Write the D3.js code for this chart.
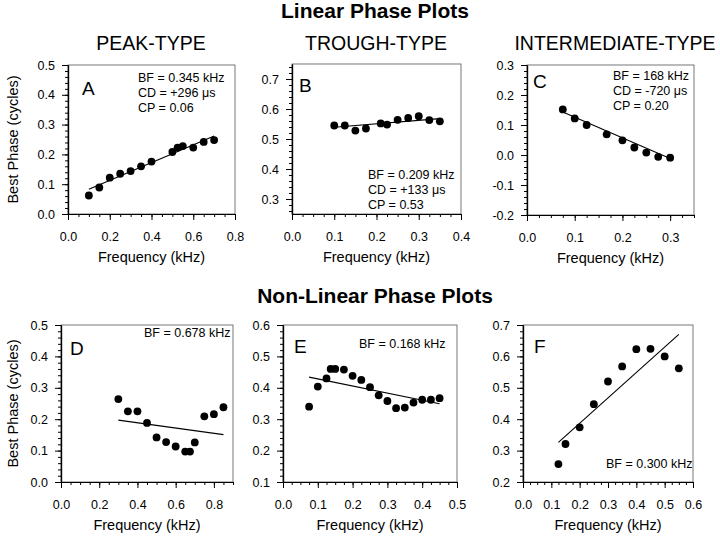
<!DOCTYPE html>
<html>
<head>
<meta charset="utf-8">
<script src="https://cdn.jsdelivr.net/npm/d3@7"></script>
<title>Linear and non-linear phase plots</title>
<style>
  body { margin:0; background:#fff; }
  text { font-family:"Liberation Sans", Arial, sans-serif; fill:#000; }
</style>
</head>
<body>
<div id="chart"></div>
<script>
// ---- values ----
var rowTitles = ["Linear Phase Plots", "Non-Linear Phase Plots"];
var colTitles = ["PEAK-TYPE", "TROUGH-TYPE", "INTERMEDIATE-TYPE"];
var letters = ["A", "B", "C", "D", "E", "F"];

var freqA  = [0.1, 0.15, 0.2, 0.25, 0.3, 0.35, 0.4, 0.5, 0.525, 0.55, 0.6, 0.65, 0.7];
var phaseA = [0.062, 0.089, 0.122, 0.135, 0.144, 0.16, 0.176, 0.208, 0.223, 0.228, 0.223, 0.242, 0.248];
var fitA   = [[0.1, 0.083], [0.7, 0.262]];
var notesA = ["BF = 0.345 kHz", "CD = +296 \u03bcs", "CP = 0.06"];

var freqB  = [0.1, 0.125, 0.15, 0.175, 0.21, 0.225, 0.25, 0.275, 0.3, 0.325, 0.35];
var phaseB = [0.545, 0.545, 0.528, 0.535, 0.552, 0.548, 0.564, 0.570, 0.576, 0.563, 0.559];
var fitB   = [[0.1, 0.539], [0.35, 0.568]];
var notesB = ["BF = 0.209 kHz", "CD = +133 \u03bcs", "CP = 0.53"];

var freqC  = [0.075, 0.1, 0.125, 0.167, 0.2, 0.225, 0.25, 0.275, 0.3];
var phaseC = [0.152, 0.122, 0.1, 0.069, 0.049, 0.025, 0.008, -0.006, -0.009];
var fitC   = [[0.075, 0.143], [0.3, -0.012]];
var notesC = ["BF = 168 kHz", "CD = -720 \u03bcs", "CP = 0.20"];

var freqD  = [0.3, 0.35, 0.4, 0.45, 0.5, 0.55, 0.6, 0.65, 0.675, 0.7, 0.75, 0.8, 0.85];
var phaseD = [0.264, 0.225, 0.225, 0.188, 0.142, 0.127, 0.113, 0.097, 0.097, 0.126, 0.209, 0.216, 0.238];
var fitD   = [[0.3, 0.197], [0.85, 0.151]];
var notesD = ["BF = 0.678 kHz"];

var freqE  = [0.075, 0.1, 0.125, 0.137, 0.15, 0.175, 0.2, 0.225, 0.25, 0.275, 0.3, 0.325, 0.35, 0.375, 0.4, 0.425, 0.45];
var phaseE = [0.340, 0.404, 0.430, 0.460, 0.460, 0.458, 0.438, 0.425, 0.402, 0.376, 0.358, 0.335, 0.337, 0.353, 0.362, 0.362, 0.367];
var fitE   = [[0.075, 0.434], [0.45, 0.349]];
var notesE = ["BF = 0.168 kHz"];

var freqF  = [0.125, 0.15, 0.2, 0.25, 0.3, 0.35, 0.4, 0.45, 0.5, 0.55];
var phaseF = [0.257, 0.321, 0.374, 0.448, 0.520, 0.568, 0.623, 0.624, 0.60, 0.562];
var fitF   = [[0.125, 0.326], [0.55, 0.670]];
var notesF = ["BF = 0.300 kHz"];

var xDomains = [[0, 0.8], [0, 0.4], [0, 0.35], [0, 0.9], [0, 0.5], [0, 0.6]];
var yDomains = [[0, 0.5], [0.25, 0.75], [-0.2, 0.3], [0, 0.5], [0.1, 0.6], [0.2, 0.7]];
var xSteps   = [0.2, 0.1, 0.1, 0.2, 0.1, 0.1];

var freqs  = [freqA, freqB, freqC, freqD, freqE, freqF];
var phases = [phaseA, phaseB, phaseC, phaseD, phaseE, phaseF];
var fits   = [fitA, fitB, fitC, fitD, fitE, fitF];
var notes  = [notesA, notesB, notesC, notesD, notesE, notesF];

// ---- layout ----
var w = 720, h = 536;
var boxes = [
  {x0:68,  x1:235, y0:65,  y1:214},
  {x0:292, x1:461, y0:64,  y1:214},
  {x0:527, x1:694, y0:65,  y1:215},
  {x0:61,  x1:233, y0:325, y1:482},
  {x0:283, x1:457, y0:325, y1:482},
  {x0:523, x1:693, y0:325, y1:482}
];
var letterPos = [[82,95], [299,92], [533,88], [70,355], [294,353], [534,353]];
var notePos   = [[138,82], [368,179], [613,80], [144,337], [359,348], [606,468]];

var svg = d3.select("#chart").append("svg")
    .attr("width", w).attr("height", h);

svg.append("rect").attr("width", w).attr("height", h).attr("fill", "#fff");

function steps(dom, step) {
  var start = Math.ceil(dom[0] / step - 1e-9) * step;
  var out = [];
  for (var v = start; v <= dom[1] + 1e-9; v += step) out.push(+v.toFixed(4));
  return out;
}

var fmt = function(d) { return d.toFixed(1); };

// titles
svg.selectAll("text.rowtitle")
   .data(rowTitles)
   .enter().append("text")
     .attr("class", "rowtitle")
     .attr("x", 375)
     .attr("y", function(d, i) { return i == 0 ? 18 : 303; })
     .attr("text-anchor", "middle")
     .style("font-size", "21px")
     .style("font-weight", "bold")
     .text(function(d) { return d; });

svg.selectAll("text.coltitle")
   .data(colTitles)
   .enter().append("text")
     .attr("class", "coltitle")
     .attr("x", function(d, i) { return [151, 376, 615][i]; })
     .attr("y", 50)
     .attr("text-anchor", "middle")
     .style("font-size", "19.5px")
     .text(function(d) { return d; });

letters.forEach(function(L, i) {
  var b = boxes[i];
  var x = d3.scaleLinear().domain(xDomains[i]).range([b.x0, b.x1]);
  var y = d3.scaleLinear().domain(yDomains[i]).range([b.y1, b.y0]);
  var g = svg.append("g");

  // frame (top/right)
  g.append("rect")
   .attr("x", b.x0).attr("y", b.y0)
   .attr("width", b.x1 - b.x0).attr("height", b.y1 - b.y0)
   .attr("fill", "none").attr("stroke", "#555").attr("stroke-width", 0.8);

  // minor ticks
  g.append("g").attr("transform", "translate(0," + b.y1 + ")")
   .call(d3.axisBottom(x).tickValues(steps(xDomains[i], xSteps[i] / 4)).tickSize(3).tickSizeOuter(0).tickFormat(""));
  g.append("g").attr("transform", "translate(" + b.x0 + ",0)")
   .call(d3.axisLeft(y).tickValues(steps(yDomains[i], 0.02)).tickSize(3).tickSizeOuter(0).tickFormat(""));

  // major ticks + labels
  g.append("g").attr("class", "ax").attr("transform", "translate(0," + b.y1 + ")")
   .call(d3.axisBottom(x).tickValues(steps(xDomains[i], xSteps[i])).tickSize(6).tickPadding(12).tickSizeOuter(0).tickFormat(fmt));
  g.append("g").attr("class", "ax").attr("transform", "translate(" + b.x0 + ",0)")
   .call(d3.axisLeft(y).tickValues(steps(yDomains[i], 0.1)).tickSize(6).tickPadding(7).tickSizeOuter(0).tickFormat(fmt));

  g.selectAll(".domain").attr("stroke", "#000").attr("stroke-width", 1.2);
  g.selectAll(".tick line").attr("stroke", "#000").attr("stroke-width", 1);
  g.selectAll(".ax text")
   .style("font-family", "'Liberation Sans', Arial, sans-serif")
   .style("font-size", "12.5px").attr("fill", "#000");

  // x title
  g.append("text")
   .attr("x", (b.x0 + b.x1) / 2)
   .attr("y", b.y1 + 48)
   .attr("text-anchor", "middle")
   .style("font-size", "14.5px")
   .text("Frequency (kHz)");

  // y title on the left column only
  if (i % 3 == 0) {
    g.append("text")
     .attr("transform", "translate(18," + (b.y0 + b.y1) / 2 + ") rotate(-90)")
     .attr("text-anchor", "middle")
     .style("font-size", "14.5px")
     .text("Best Phase (cycles)");
  }

  // regression line
  var line = d3.line().x(function(d) { return x(d[0]); }).y(function(d) { return y(d[1]); });
  g.append("path")
   .attr("d", line(fits[i]))
   .attr("fill", "none").attr("stroke", "#000").attr("stroke-width", 1.1);

  // points
  g.selectAll("circle")
   .data(freqs[i].map(function(f, k) { return [f, phases[i][k]]; }))
   .enter().append("circle")
     .attr("cx", function(d) { return x(d[0]); })
     .attr("cy", function(d) { return y(d[1]); })
     .attr("r", 3.9)
     .attr("fill", "#000");

  // panel letter
  g.append("text")
   .attr("x", letterPos[i][0]).attr("y", letterPos[i][1])
   .style("font-size", "19px")
   .text(L);

  // annotations
  g.selectAll("text.note")
   .data(notes[i])
   .enter().append("text")
     .attr("class", "note")
     .attr("x", notePos[i][0])
     .attr("y", function(d, k) { return notePos[i][1] + k * 15; })
     .style("font-size", "12.5px")
     .text(function(d) { return d; });
});
</script>
</body>
</html>
